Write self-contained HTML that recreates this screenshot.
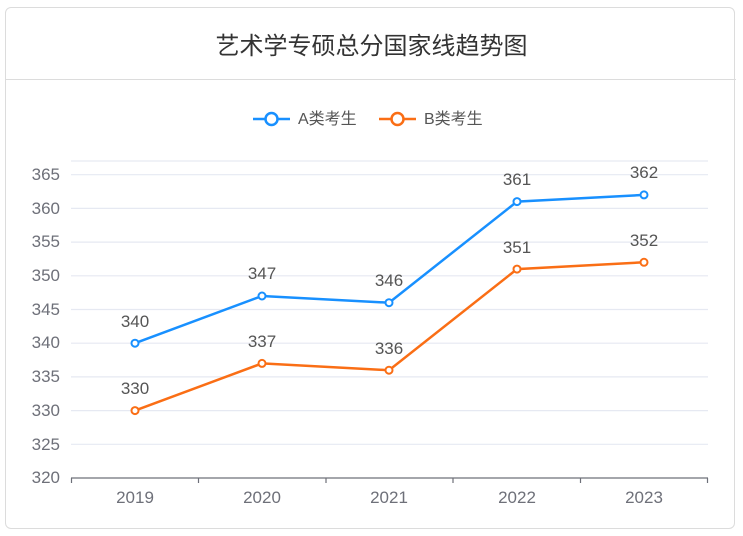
<!DOCTYPE html>
<html><head><meta charset="utf-8"><style>
html,body{margin:0;padding:0;background:#fff;}
body{width:743px;height:536px;position:relative;overflow:hidden;font-family:"Liberation Sans","Noto Sans CJK SC",sans-serif;}
.card{position:absolute;left:5px;top:7px;width:730px;height:522px;border:1px solid #dcdcdc;border-radius:6px;box-sizing:border-box;}
.title{position:absolute;left:0;top:26px;width:743px;text-align:center;font-size:24px;letter-spacing:0;color:#333;font-family:"Noto Sans CJK SC",sans-serif;}
.div{position:absolute;left:6px;top:79px;width:730px;height:1px;background:#dcdcdc;}
svg{position:absolute;left:0;top:0;}
</style></head><body>
<div class="card"></div>
<div class="title">艺术学专硕总分国家线趋势图</div>
<div class="div"></div>
<svg width="743" height="536" font-family="Liberation Sans, Noto Sans CJK SC, sans-serif">
<g stroke="#e6e9f2" stroke-width="1.2">
<line x1="71" x2="708" y1="161" y2="161"/>
<line x1="71" x2="708" y1="174.7" y2="174.7"/>
<line x1="71" x2="708" y1="208.4" y2="208.4"/>
<line x1="71" x2="708" y1="242.1" y2="242.1"/>
<line x1="71" x2="708" y1="275.8" y2="275.8"/>
<line x1="71" x2="708" y1="309.5" y2="309.5"/>
<line x1="71" x2="708" y1="343.2" y2="343.2"/>
<line x1="71" x2="708" y1="376.9" y2="376.9"/>
<line x1="71" x2="708" y1="410.6" y2="410.6"/>
<line x1="71" x2="708" y1="444.3" y2="444.3"/>
</g>
<g stroke="#6e7079" stroke-width="1.2">
<line x1="71" x2="708" y1="478" y2="478"/>
<line x1="71.5" x2="71.5" y1="478" y2="483"/>
<line x1="198.5" x2="198.5" y1="478" y2="483"/>
<line x1="326" x2="326" y1="478" y2="483"/>
<line x1="453" x2="453" y1="478" y2="483"/>
<line x1="580.5" x2="580.5" y1="478" y2="483"/>
<line x1="707.5" x2="707.5" y1="478" y2="483"/>
</g>
<g fill="#6e7079" font-size="17" text-anchor="end">
<text x="60" y="180">365</text><text x="60" y="214">360</text><text x="60" y="247">355</text>
<text x="60" y="281">350</text><text x="60" y="315">345</text><text x="60" y="348">340</text>
<text x="60" y="382">335</text><text x="60" y="416">330</text><text x="60" y="450">325</text>
<text x="60" y="483">320</text>
</g>
<g fill="#6e7079" font-size="17" text-anchor="middle">
<text x="135" y="503">2019</text><text x="262" y="503">2020</text><text x="389" y="503">2021</text>
<text x="517" y="503">2022</text><text x="644" y="503">2023</text>
</g>
<polyline fill="none" stroke="#1890ff" stroke-width="2.5" points="135,343.2 262,296 389,302.7 517,201.6 644,194.9"/>
<polyline fill="none" stroke="#fa6e15" stroke-width="2.5" points="135,410.6 262,363.4 389,370.2 517,269.1 644,262.3"/>
<g fill="#fff" stroke="#1890ff" stroke-width="2">
<circle cx="135" cy="343.2" r="3.5"/><circle cx="262" cy="296" r="3.5"/><circle cx="389" cy="302.7" r="3.5"/><circle cx="517" cy="201.6" r="3.5"/><circle cx="644" cy="194.9" r="3.5"/>
</g>
<g fill="#fff" stroke="#fa6e15" stroke-width="2">
<circle cx="135" cy="410.6" r="3.5"/><circle cx="262" cy="363.4" r="3.5"/><circle cx="389" cy="370.2" r="3.5"/><circle cx="517" cy="269.1" r="3.5"/><circle cx="644" cy="262.3" r="3.5"/>
</g>
<g fill="#555" font-size="17" text-anchor="middle">
<text x="135" y="327">340</text><text x="262" y="279">347</text><text x="389" y="286">346</text><text x="517" y="185">361</text><text x="644" y="178">362</text>
<text x="135" y="394">330</text><text x="262" y="347">337</text><text x="389" y="354">336</text><text x="517" y="253">351</text><text x="644" y="246">352</text>
</g>
<line x1="253" x2="290" y1="119" y2="119" stroke="#1890ff" stroke-width="2.5"/>
<circle cx="271.5" cy="119" r="6" fill="#fff" stroke="#1890ff" stroke-width="2.5"/>
<text x="298" y="124" font-size="16" fill="#555">A类考生</text>
<line x1="379" x2="416" y1="119" y2="119" stroke="#fa6e15" stroke-width="2.5"/>
<circle cx="397.5" cy="119" r="6" fill="#fff" stroke="#fa6e15" stroke-width="2.5"/>
<text x="424" y="124" font-size="16" fill="#555">B类考生</text>
</svg>
</body></html>
